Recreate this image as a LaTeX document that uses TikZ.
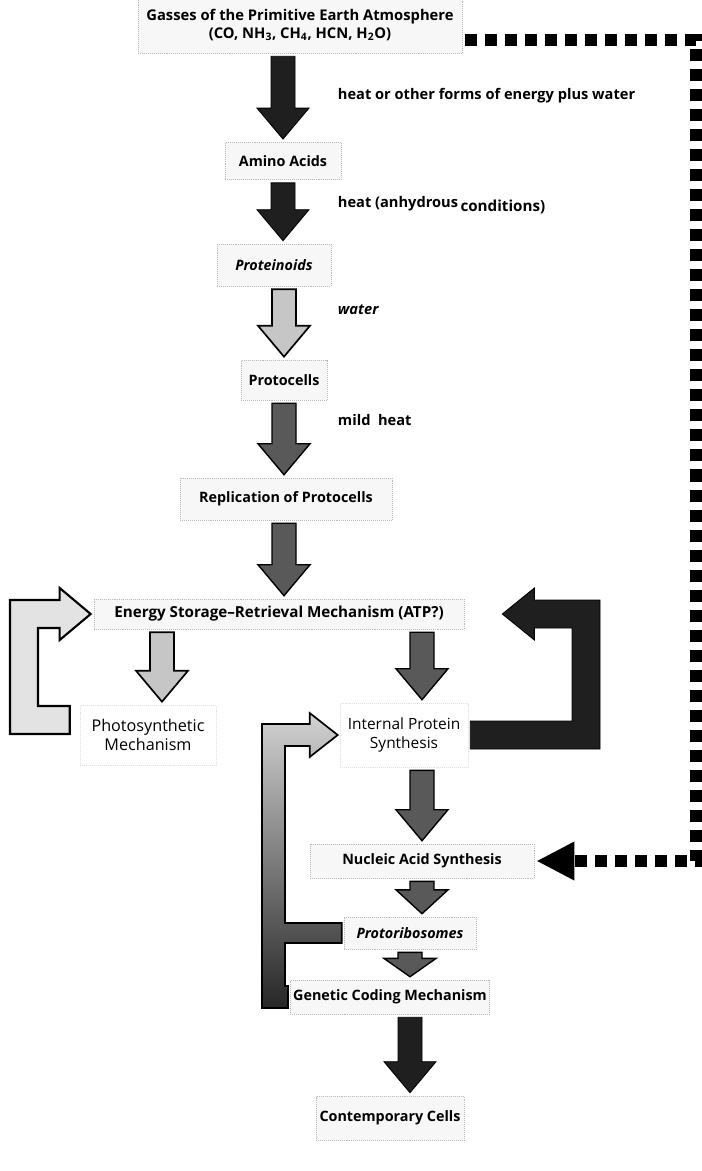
\documentclass[tikz,border=0pt]{standalone}
\usepackage{fontspec}
\setmainfont{Open Sans}
\usetikzlibrary{calc,arrows.meta}

\newcommand{\pxl}{0.025cm}
% fat block arrow pointing down, x taken from the second point
\newcommand{\bigdown}[3]{%
  \path[#1] let \p1=(#2), \p2=(#3), \n1={min(34*\pxl,0.7*(\y1-\y2))} in
    (\x2-12*\pxl,\y1-3*\pxl) -- (\x2+12*\pxl,\y1-3*\pxl)
    -- (\x2+12*\pxl,\y2+\n1) -- (\x2+26*\pxl,\y2+\n1)
    -- (\x2,\y2+3*\pxl) -- (\x2-26*\pxl,\y2+\n1)
    -- (\x2-12*\pxl,\y2+\n1) -- cycle;}

\tikzset{
  stage/.style={draw=gray!55,densely dotted,fill=gray!6,align=center,inner sep=2pt,
    font=\fontsize{10.2}{12.5}\selectfont\bfseries},
  faint/.style={stage,draw=gray!25,fill=none,font=\fontsize{11.5}{14}\selectfont},
  note/.style={anchor=west,font=\fontsize{10.4}{11.5}\selectfont\bfseries},
  arrdark/.style={fill=black!88,draw=black,line width=0.6pt},
  arrmid/.style={fill=black!65,draw=black,line width=1pt},
  arrlight/.style={fill=gray!45,draw=black,line width=1.2pt},
  arropen/.style={fill=gray!22,draw=black,line width=1.5pt},
  arrshade/.style={top color=gray!35,bottom color=black!85,draw=black,line width=1.2pt},
  dashline/.style={line width=0.3cm,dash pattern=on 0.3cm off 0.2cm,
    -{Triangle[width=0.9cm,length=0.95cm]}}
}

\begin{document}
\begin{tikzpicture}[x=\pxl,y=-\pxl]
  \useasboundingbox (0,0) rectangle (702,1171);

  % stages
  \node[stage,minimum width=8.1cm,minimum height=1.4cm,font=\fontsize{10.5}{12.5}\selectfont\bfseries]
    (gas) at (300,25)
    {Gasses of the Primitive Earth Atmosphere\\(CO, NH\textsubscript{3}, CH\textsubscript{4}, HCN, H\textsubscript{2}O)};
  \node[stage,minimum width=2.9cm,minimum height=0.93cm] (amino) at (283,161) {Amino Acids};
  \node[stage,minimum width=2.85cm,minimum height=1.05cm] (prot) at (274,265) {\itshape Proteinoids};
  \node[stage,minimum width=2.15cm,minimum height=1cm] (cells) at (284,380) {Protocells};
  \node[stage,minimum width=5.3cm,minimum height=1.05cm] (repl) at (286,499) {Replication of Protocells};
  \node[stage,minimum width=9.25cm,minimum height=0.75cm,font=\fontsize{10.8}{13}\selectfont\bfseries]
    (energy) at (279,614) {Energy Storage--Retrieval Mechanism (ATP?)};
  \node[faint,minimum width=3.4cm,minimum height=1.5cm] (photo) at (148,735) {Photosynthetic\\Mechanism};
  \node[faint,minimum width=3.2cm,minimum height=1.6cm,font=\fontsize{11}{14}\selectfont]
    (intern) at (404,735) {Internal Protein\\Synthesis};
  \node[stage,minimum width=5.6cm,minimum height=0.85cm] (nucleic) at (422,861) {Nucleic Acid Synthesis};
  \node[stage,minimum width=3.3cm,minimum height=0.8cm] (ribo) at (410,933) {\itshape Protoribosomes};
  \node[stage,minimum width=4.5cm,minimum height=0.85cm] (coding) at (390,997) {Genetic Coding Mechanism};
  \node[stage,minimum width=3.7cm,minimum height=1.1cm] (modern) at (390,1118) {Contemporary Cells};

  % conditions
  \node[note] (l1) at (333,96) {heat or other forms of energy plus water};
  \node[note] (l2) at (333,205) {heat (anhydrous\,\raisebox{-0.45ex}{\fontsize{10.8}{12}\selectfont conditions)}};
  \node[note] (l3) at (333,310) {\itshape water};
  \node[note] (l4) at (333,420) {mild\ \ heat};

  % main chain
  \bigdown{arrdark}{gas.south}{amino.north}
  \bigdown{arrdark}{amino.south}{prot.north -| amino.south}
  \bigdown{arrlight}{prot.south}{cells.north}
  \bigdown{arrmid}{cells.south}{repl.north -| cells.south}
  \bigdown{arrmid}{repl.south}{energy.north -| cells.south}
  \bigdown{arrlight}{energy.south}{$(photo.north)+(14,0)$}
  \bigdown{arrmid}{energy.south}{intern.north -| nucleic.north}
  \bigdown{arrmid}{intern.south}{nucleic.north}
  \bigdown{arrmid}{nucleic.south}{ribo.north -| nucleic.south}
  \bigdown{arrmid}{ribo.south}{coding.north -| ribo.south}
  \bigdown{arrdark}{coding.south}{modern.north -| ribo.south}

  % photo -> energy
  \path[arropen] let \p1=($(photo.west)+(0,-15)$), \p2=(energy.west) in
    (\x1-10*\pxl,\y1+14*\pxl) -- (38*\pxl,\y1+14*\pxl) -- (38*\pxl,\y2-14*\pxl)
    -- (\x2-34*\pxl,\y2-14*\pxl) -- (\x2-34*\pxl,\y2-26*\pxl) -- (\x2-3*\pxl,\y2)
    -- (\x2-34*\pxl,\y2+26*\pxl) -- (\x2-34*\pxl,\y2+14*\pxl) -- (10*\pxl,\y2+14*\pxl)
    -- (10*\pxl,\y1-14*\pxl) -- (\x1-10*\pxl,\y1-14*\pxl) -- cycle;

  % protein synthesis -> energy
  \path[arrdark] let \p1=(intern.east), \p2=(energy.east) in
    (\x1+2*\pxl,\y1+14*\pxl) -- (572*\pxl,\y1+14*\pxl) -- (572*\pxl,\y2-14*\pxl)
    -- (\x2+70*\pxl,\y2-14*\pxl) -- (\x2+70*\pxl,\y2-26*\pxl) -- (\x2+38*\pxl,\y2)
    -- (\x2+70*\pxl,\y2+26*\pxl) -- (\x2+70*\pxl,\y2+14*\pxl) -- (600*\pxl,\y2+14*\pxl)
    -- (600*\pxl,\y1-14*\pxl) -- (\x1+2*\pxl,\y1-14*\pxl) -- cycle;

  % ribosomes and coding feed back
  \path[arrshade] let \p1=(intern.west), \p2=(ribo.west), \p3=(coding.west) in
    (\x1-2*\pxl,\y1) -- (\x1-30*\pxl,\y1+22*\pxl) -- (\x1-30*\pxl,\y1+11*\pxl)
    -- (262*\pxl,\y1+11*\pxl) -- (262*\pxl,\y3-11*\pxl) -- (\x3-2*\pxl,\y3-11*\pxl)
    -- (\x3-2*\pxl,\y3+11*\pxl) -- (285*\pxl,\y3+11*\pxl) -- (285*\pxl,\y2-10*\pxl)
    -- (\x2-2*\pxl,\y2-10*\pxl) -- (\x2-2*\pxl,\y2+10*\pxl) -- (285*\pxl,\y2+10*\pxl)
    -- (285*\pxl,\y1-11*\pxl) -- (\x1-30*\pxl,\y1-11*\pxl) -- (\x1-30*\pxl,\y1-22*\pxl) -- cycle;

  % gasses straight to nucleic acids
  \coordinate (dc) at (696,0);
  \draw[dashline] ($(gas.east)+(3,15)$) -- ($(gas.east -| dc)+(0,15)$) -- (nucleic.east -| dc)
    -- ($(nucleic.east)+(2,0)$);
\end{tikzpicture}
\end{document}
